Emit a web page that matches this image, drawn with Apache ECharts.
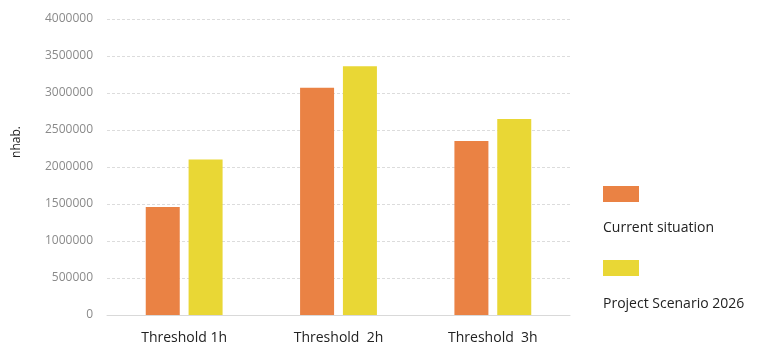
<!DOCTYPE html>
<html>
<head>
<meta charset="utf-8">
<script src="https://cdn.jsdelivr.net/npm/echarts@6/dist/echarts.min.js"></script>
<style>
html, body { margin: 0; padding: 0; background: #fff; }
#main { width: 758px; height: 347px; }
</style>
</head>
<body>
<div id="main"></div>
<script>
var categories = ['Threshold 1h', 'Threshold  2h', 'Threshold  3h'];
var currentSituation = [1460000, 3070000, 2350000];
var projectScenario = [2100000, 3360000, 2650000];
var seriesNames = ['Current situation', 'Project Scenario 2026'];
var yTicks = [0, 500000, 1000000, 1500000, 2000000, 2500000, 3000000, 3500000, 4000000];

var colors = ['#EA8244', '#E9D735'];
var myChart = echarts.init(document.getElementById('main'));

var option = {
	animation: false,
	color: colors,
	grid: { left: 107, right: 188, top: 19, bottom: 32 },
	legend: {
		orient: 'vertical',
		left: 603,
		top: 186,
		padding: 0,
		itemWidth: 36,
		itemHeight: 16,
		itemGap: 58,
		icon: 'rect',
		formatter: function () { return ''; },
		selectedMode: false,
		data: seriesNames
	},
	// legend labels sit under the swatches, so they are drawn as plain text
	graphic: [
		{ type: 'text', left: 603, top: 221, style: { text: seriesNames[0], fontSize: 14, fontFamily: 'Open Sans', fill: '#222' } },
		{ type: 'text', left: 603, top: 297, style: { text: seriesNames[1], fontSize: 14, fontFamily: 'Open Sans', fill: '#222' } }
	],
	xAxis: {
		type: 'category',
		data: categories,
		axisTick: { show: false },
		axisLine: { lineStyle: { color: '#d9d9d9' } },
		axisLabel: { color: '#222', fontSize: 14, fontFamily: 'Open Sans', margin: 16 }
	},
	yAxis: {
		type: 'value',
		min: yTicks[0],
		max: yTicks[yTicks.length - 1],
		interval: 500000,
		name: 'nhab.',
		nameLocation: 'middle',
		nameRotate: 90,
		nameGap: 84,
		nameTextStyle: { color: '#222', fontSize: 12, fontFamily: 'Open Sans', padding: [0, 0, 0, 50] },
		axisLabel: { color: '#8a8a8a', fontSize: 12, fontFamily: 'Open Sans', margin: 14,
			formatter: function (v) { return String(v); } },
		splitLine: { lineStyle: { color: '#dcdcdc', type: [3, 2] } }
	},
	series: [
		{ name: seriesNames[0], type: 'bar', data: currentSituation, barWidth: 34, barGap: '26%' },
		{ name: seriesNames[1], type: 'bar', data: projectScenario, barWidth: 34, barGap: '26%' }
	]
};
myChart.setOption(option);
</script>
</body>
</html>
